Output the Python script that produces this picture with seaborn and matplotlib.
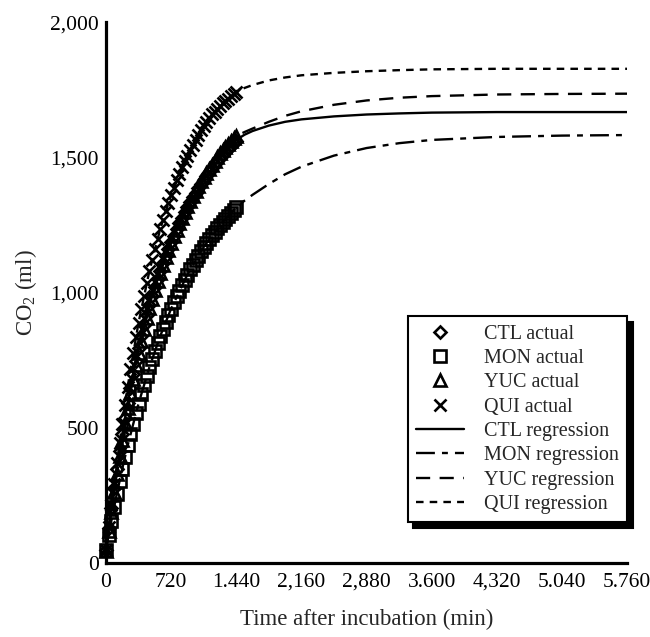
import matplotlib
matplotlib.use("Agg")
import matplotlib.pyplot as plt
import seaborn as sns
import pandas as pd

# ---- data ----
time_actual = list(range(0, 1441, 30))
ctl_actual = [50,129,205,278,347,413,476,536,593,647,699,748,795,839,880,919,955,989,1020,1050,
              1080,1108,1135,1161,1187,1211,1234,1256,1277,1297,1317,1335,1353,1370,1387,1403,1418,1433,1448,1461,
              1475,1487,1500,1511,1522,1533,1543,1553,1562]
mon_actual = [50,104,157,208,256,304,349,393,435,476,516,554,590,626,660,693,724,755,784,813,
              840,867,892,917,941,964,986,1007,1028,1048,1067,1086,1103,1121,1137,1153,1169,1184,1198,1212,
              1225,1238,1250,1262,1274,1285,1296,1306,1316]
yuc_actual = [45,118,190,262,330,395,457,517,574,629,681,731,778,823,866,906,943,978,1011,1043,
              1074,1103,1131,1158,1184,1209,1233,1256,1278,1299,1320,1340,1359,1377,1395,1412,1428,1444,1459,1474,
              1488,1502,1515,1527,1539,1550,1561,1571,1580]
qui_actual = [50,133,214,292,369,443,515,585,652,716,777,835,889,941,989,1036,1080,1122,1162,1200,
              1236,1270,1302,1332,1361,1389,1415,1440,1464,1486,1507,1527,1546,1565,1583,1600,1616,1631,1646,1660,
              1668,1679,1690,1700,1709,1718,1727,1735,1743]

time_reg = [0, 60, 120, 180, 240, 360, 480, 600, 720, 900, 1080, 1260, 1440,
            1530, 1620, 1800, 1980, 2160, 2520, 2880, 3240, 3600, 4320, 5040, 5760]
ctl_reg = [50,205,347,476,593,795,955,1080,1187,1317,1418,1500,1565,
           1584,1598,1618,1632,1641,1652,1659,1663,1666,1668,1668,1668]
mon_reg = [50,157,256,349,435,590,724,840,941,1067,1169,1250,1316,
           1340,1362,1402,1438,1466,1507,1535,1553,1565,1576,1581,1583]
yuc_reg = [45,190,330,457,574,778,943,1074,1184,1320,1428,1515,1580,
           1594,1607,1632,1654,1671,1695,1711,1721,1727,1733,1735,1736]
qui_reg = [50,214,369,515,652,889,1080,1236,1361,1507,1616,1690,1743,
           1757,1768,1785,1796,1804,1813,1819,1823,1826,1828,1828,1828]

x_ticks = [0, 720, 1440, 2160, 2880, 3600, 4320, 5040, 5760]
x_tick_labels = ["0", "720", "1.440", "2,160", "2,880", "3.600", "4,320", "5.040", "5.760"]
y_ticks = [0, 500, 1000, 1500, 2000]
y_tick_labels = ["0", "500", "1,000", "1,500", "2,000"]

# ---- style ----
sns.set_style("white")
plt.rcParams["font.family"] = ["Liberation Serif", "DejaVu Serif"]
plt.rcParams["mathtext.default"] = "regular"

fig = plt.figure(figsize=(6.5, 6.37), dpi=100)
ax = fig.add_axes([0.163, 0.116, 0.802, 0.849])

reg_styles = [
    ("CTL regression", ctl_reg, "-"),
    ("MON regression", mon_reg, (0, (8, 3, 2.5, 3))),
    ("YUC regression", yuc_reg, (0, (6, 4))),
    ("QUI regression", qui_reg, (0, (3.2, 2.6))),
]

act = [
    ("CTL actual", ctl_actual, "D", 6.5),
    ("MON actual", mon_actual, "s", 8),
    ("YUC actual", yuc_actual, "^", 8.5),
    ("QUI actual", qui_actual, "x", 8.5),
]

for lab, vals, mk, ms in act:
    df = pd.DataFrame({"t": time_actual, "v": vals})
    sns.lineplot(data=df, x="t", y="v", ax=ax, marker=mk, markersize=ms, linestyle="none",
                 markerfacecolor="none", markeredgecolor="black", markeredgewidth=1.9,
                 color="black", label=lab, zorder=5, clip_on=False)

for lab, vals, ls in reg_styles:
    df = pd.DataFrame({"t": time_reg, "v": vals})
    sns.lineplot(data=df, x="t", y="v", ax=ax, color="black", linewidth=1.7,
                 linestyle=ls, label=lab, zorder=3)

ax.set_xlim(0, 5760)
ax.set_ylim(0, 2000)
ax.set_xticks(x_ticks)
ax.set_xticklabels(x_tick_labels)
ax.set_yticks(y_ticks)
ax.set_yticklabels(y_tick_labels)
ax.tick_params(direction="in", length=6, width=2, labelsize=15.5, colors="black")
ax.tick_params(axis="y", pad=5)
ax.tick_params(axis="x", pad=7)
for s in ["top", "right"]:
    ax.spines[s].set_visible(False)
for s in ["left", "bottom"]:
    ax.spines[s].set_linewidth(2.3)
    ax.spines[s].set_color("black")

ax.set_xlabel("Time after incubation (min)", fontsize=16.5, labelpad=12)
ax.set_ylabel("CO$_2$ (ml)", fontsize=16.5, labelpad=8)

leg = ax.legend(loc="lower right", bbox_to_anchor=(1.0, 0.076), fontsize=14.5, frameon=True,
                fancybox=False, edgecolor="black", framealpha=1, handlelength=2.4,
                labelspacing=0.26, borderpad=0.4, handletextpad=1.0, borderaxespad=0,
                shadow={"color": "black", "alpha": 1, "ox": 4, "oy": -4})
leg.get_frame().set_linewidth(1.5)

fig.savefig("out.png", dpi=100)
